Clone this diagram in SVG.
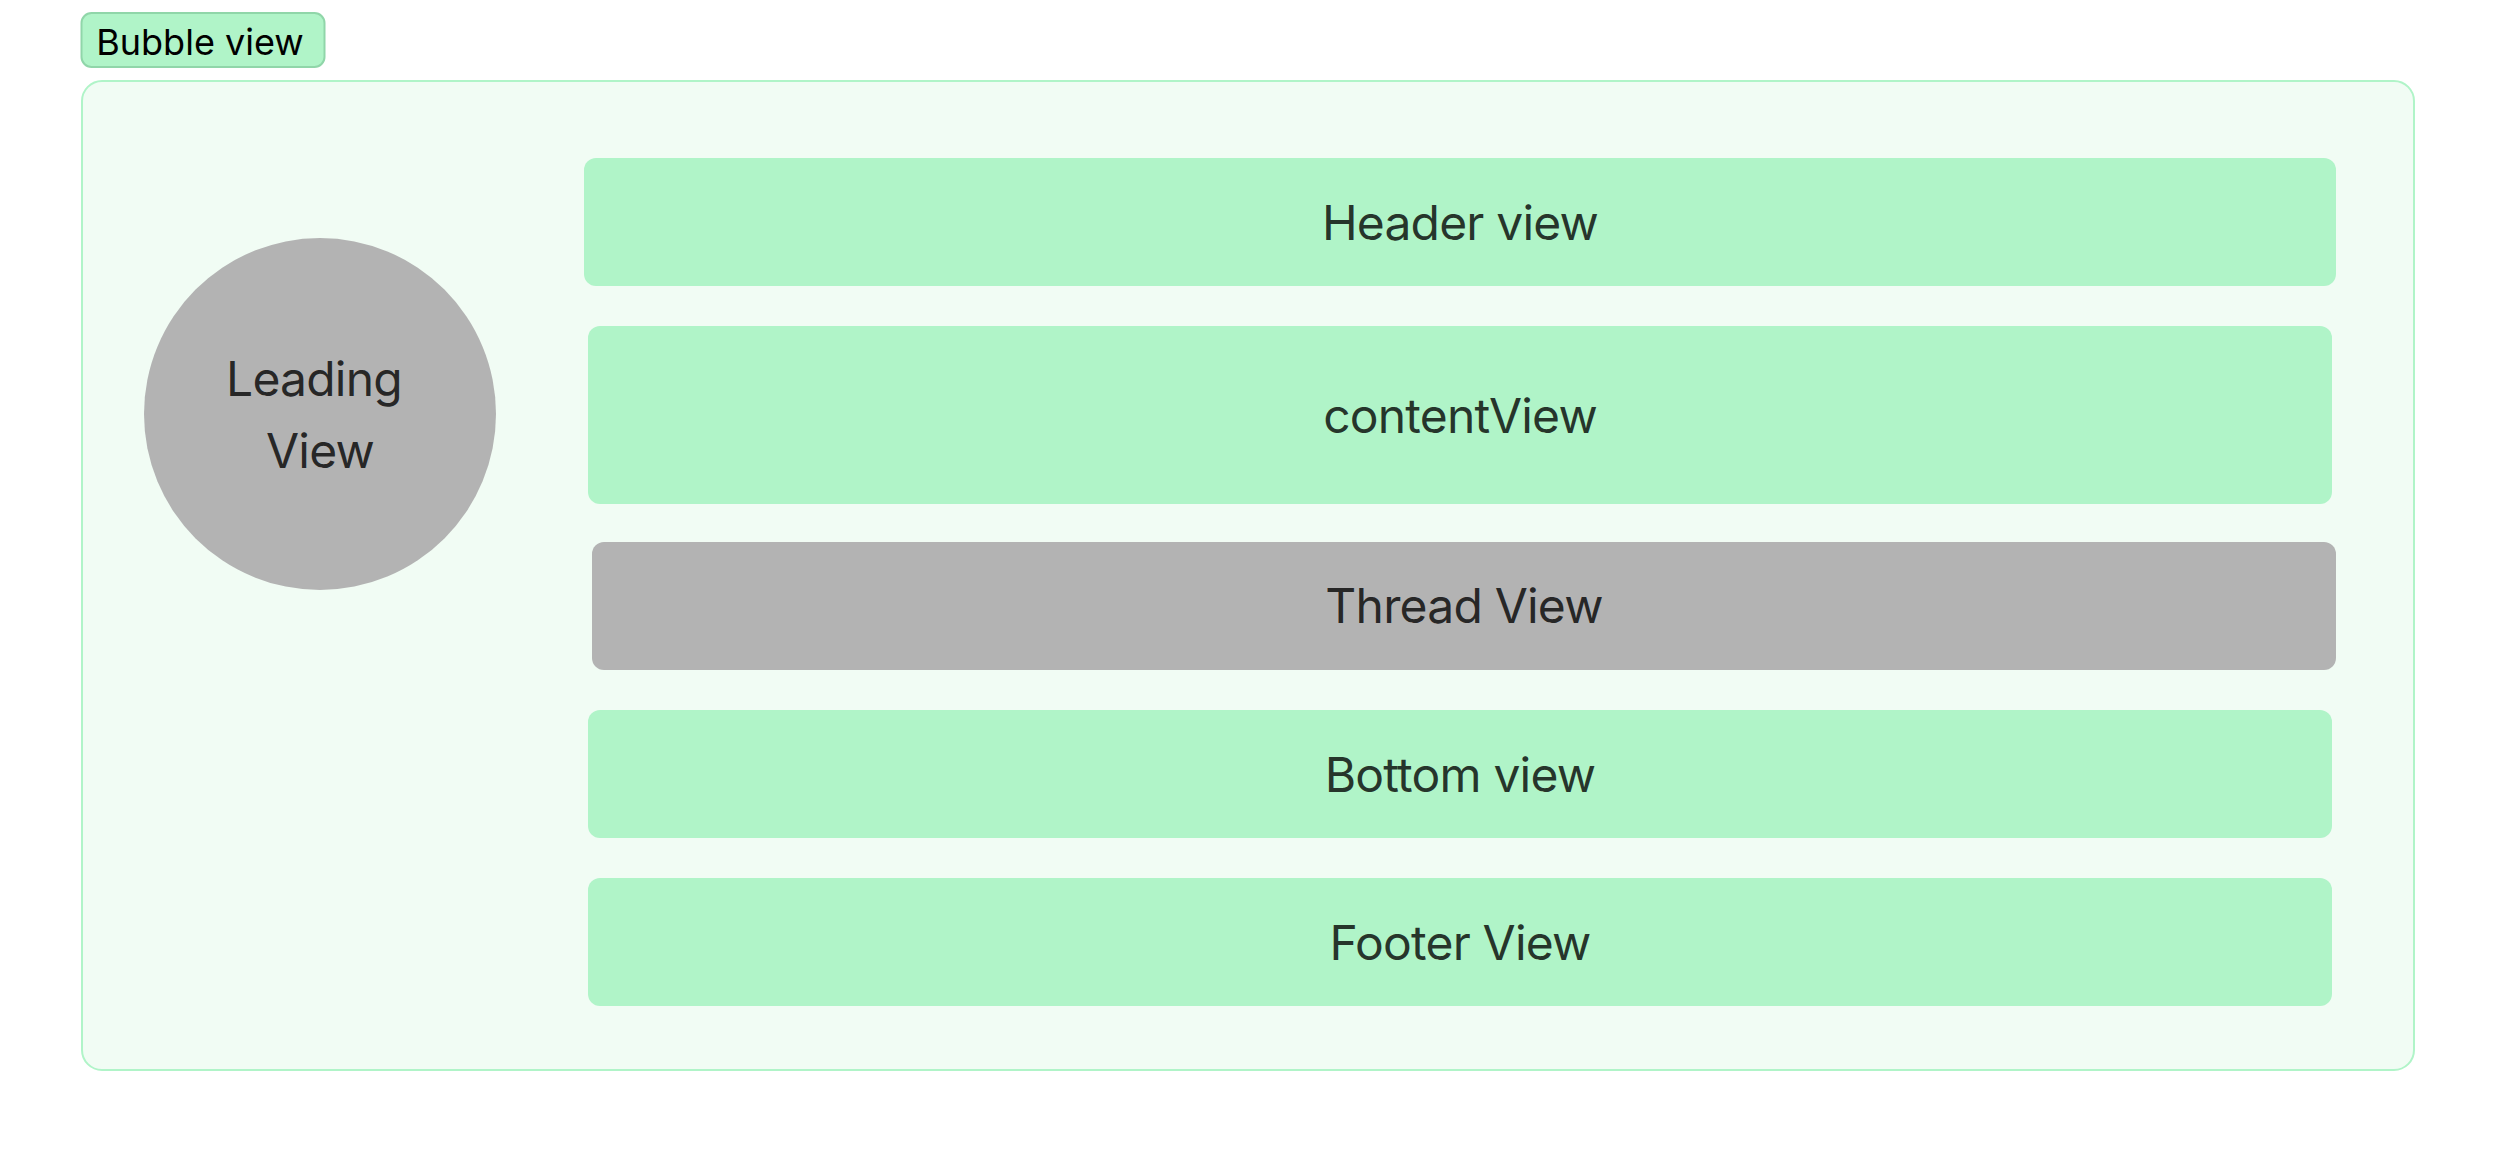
<svg xmlns="http://www.w3.org/2000/svg" width="2496" height="1152" viewBox="0 0 2496 1152">
<style>
text{font-family:Inter,"Noto Sans","Liberation Sans",sans-serif;font-size:48px;fill:#000;fill-opacity:0.8;text-anchor:middle;letter-spacing:-0.8px}
.g{fill:#b0f4c8}
.gr{fill:#b3b3b3}
</style>
<rect width="2496" height="1152" fill="#ffffff"/>
<g id="bubble-view">
<rect x="82" y="81" width="2332" height="989" rx="20" fill="#f1fcf4" stroke="#b0f4c8" stroke-width="2"/>
</g>
<g id="bubble-label">
<rect x="81.5" y="13" width="243" height="54" rx="10" fill="#b0f4c8" stroke="#90d6a9" stroke-width="2"/>
<text x="200" y="55" style="font-size:36px;fill-opacity:1;letter-spacing:0">Bubble view</text>
</g>
<g id="leading-view">
<circle cx="320" cy="414" r="176" class="gr"/>
<text x="314" y="396">Leading</text>
<text x="320" y="468">View</text>
</g>
<g id="header-view">
<rect x="584" y="158" width="1752" height="128" rx="12" class="g"/>
<text x="1460" y="240">Header view</text>
</g>
<g id="content-view">
<rect x="588" y="326" width="1744" height="178" rx="12" class="g"/>
<text x="1460" y="433">contentView</text>
</g>
<g id="thread-view">
<rect x="592" y="542" width="1744" height="128" rx="12" class="gr"/>
<text x="1464" y="623">Thread View</text>
</g>
<g id="bottom-view">
<rect x="588" y="710" width="1744" height="128" rx="12" class="g"/>
<text x="1460" y="792">Bottom view</text>
</g>
<g id="footer-view">
<rect x="588" y="878" width="1744" height="128" rx="12" class="g"/>
<text x="1460" y="960">Footer View</text>
</g>
<g id="connectors"></g>
</svg>
